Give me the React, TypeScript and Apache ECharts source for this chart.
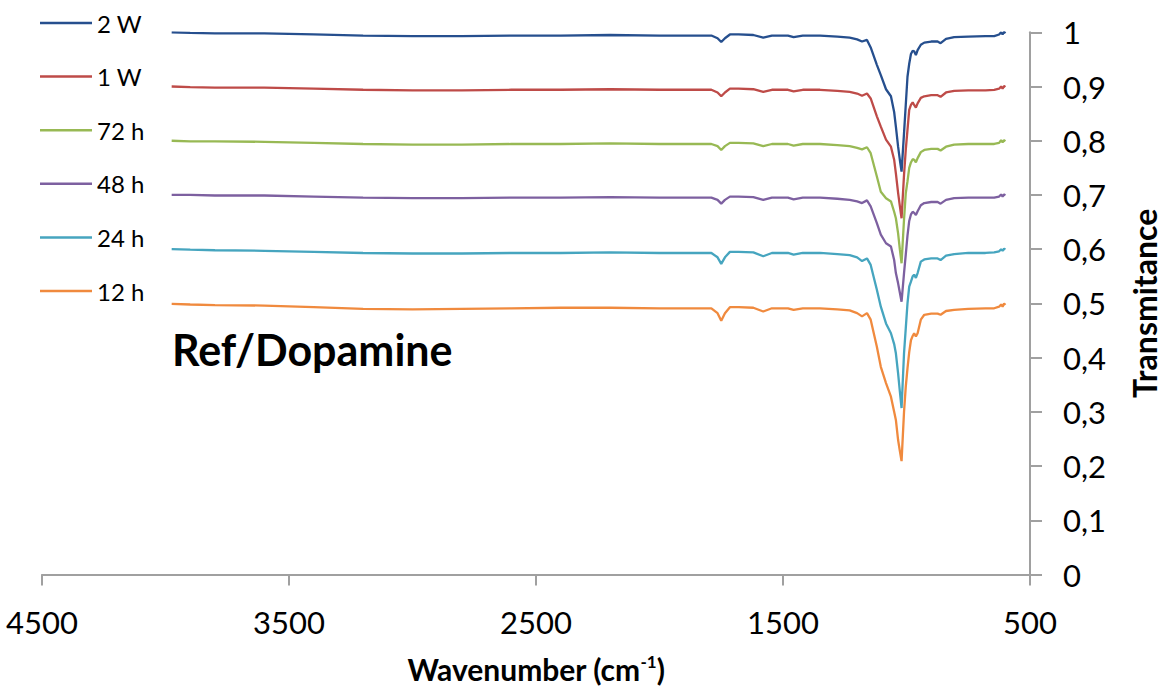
import React, { useEffect, useRef } from "react";
import * as echarts from "echarts";

const WAVENUMBERS = [
  3975, 3900, 3800, 3600, 3400, 3200, 3000, 2800, 2600, 2400, 2200, 2000, 1850, 1790,
  1765, 1750, 1735, 1715, 1680, 1620, 1580, 1545, 1480, 1457, 1420, 1350, 1280, 1230,
  1200, 1180, 1160, 1145, 1120, 1104, 1083, 1063, 1050, 1043, 1034, 1027, 1020, 1010,
  1003, 996, 989, 982, 975, 969, 962, 955, 942, 928, 900, 874, 862, 840, 807, 750, 680,
  645, 625, 617, 611, 605, 600,
];

const T_2W = [
  1.0, 0.999, 0.998, 0.998, 0.996, 0.994, 0.993, 0.993, 0.994, 0.994, 0.995, 0.994, 0.994, 0.994,
  0.989, 0.982, 0.989, 0.996, 0.996, 0.995, 0.99, 0.994, 0.994, 0.991, 0.994, 0.994, 0.992, 0.99,
  0.987, 0.983, 0.986, 0.972, 0.94, 0.921, 0.895, 0.882, 0.853, 0.826, 0.789, 0.765, 0.743, 0.814,
  0.866, 0.918, 0.942, 0.96, 0.966, 0.965, 0.958, 0.967, 0.977, 0.981, 0.983, 0.983, 0.98, 0.988,
  0.991, 0.992, 0.993, 0.993, 0.996, 1.0, 0.996, 1.001, 0.998,
];
const T_1W = [
  0.9, 0.899, 0.898, 0.898, 0.896, 0.894, 0.893, 0.893, 0.894, 0.894, 0.895, 0.894, 0.894, 0.894,
  0.889, 0.882, 0.889, 0.896, 0.896, 0.895, 0.89, 0.894, 0.894, 0.891, 0.894, 0.894, 0.892, 0.89,
  0.887, 0.883, 0.887, 0.878, 0.845, 0.826, 0.802, 0.789, 0.765, 0.74, 0.704, 0.68, 0.657, 0.737,
  0.783, 0.82, 0.857, 0.866, 0.871, 0.866, 0.861, 0.869, 0.879, 0.882, 0.884, 0.884, 0.881, 0.889,
  0.892, 0.893, 0.893, 0.894, 0.896, 0.9, 0.896, 0.901, 0.899,
];
const T_72H = [
  0.8, 0.799, 0.799, 0.798, 0.796, 0.794, 0.793, 0.793, 0.794, 0.794, 0.795, 0.794, 0.794, 0.794,
  0.79, 0.783, 0.79, 0.796, 0.796, 0.795, 0.79, 0.794, 0.794, 0.791, 0.794, 0.794, 0.792, 0.79,
  0.787, 0.784, 0.788, 0.777, 0.734, 0.706, 0.694, 0.688, 0.669, 0.657, 0.629, 0.6, 0.574, 0.655,
  0.703, 0.725, 0.75, 0.76, 0.766, 0.765, 0.76, 0.768, 0.779, 0.783, 0.785, 0.785, 0.782, 0.789,
  0.793, 0.794, 0.794, 0.794, 0.796, 0.801, 0.797, 0.801, 0.799,
];
const T_48H = [
  0.7, 0.7, 0.699, 0.699, 0.697, 0.695, 0.694, 0.694, 0.695, 0.695, 0.696, 0.695, 0.695, 0.695,
  0.691, 0.684, 0.691, 0.697, 0.697, 0.696, 0.691, 0.695, 0.695, 0.692, 0.695, 0.695, 0.693, 0.691,
  0.688, 0.685, 0.69, 0.679, 0.648, 0.627, 0.611, 0.605, 0.58, 0.556, 0.537, 0.52, 0.503, 0.556,
  0.59, 0.625, 0.652, 0.664, 0.669, 0.667, 0.663, 0.67, 0.681, 0.685, 0.687, 0.687, 0.684, 0.691,
  0.694, 0.695, 0.695, 0.695, 0.697, 0.701, 0.697, 0.701, 0.699,
];
const T_24H = [
  0.6, 0.599, 0.598, 0.597, 0.595, 0.593, 0.592, 0.592, 0.593, 0.593, 0.594, 0.593, 0.593, 0.593,
  0.585, 0.573, 0.585, 0.595, 0.595, 0.594, 0.587, 0.593, 0.593, 0.59, 0.593, 0.593, 0.591, 0.589,
  0.585, 0.578, 0.583, 0.571, 0.525, 0.494, 0.463, 0.445, 0.425, 0.408, 0.371, 0.338, 0.307, 0.408,
  0.454, 0.5, 0.531, 0.54, 0.55, 0.553, 0.547, 0.556, 0.577, 0.581, 0.583, 0.583, 0.58, 0.588,
  0.591, 0.593, 0.593, 0.594, 0.596, 0.6, 0.597, 0.601, 0.599,
];
const T_12H = [
  0.499, 0.498, 0.497, 0.496, 0.493, 0.49, 0.489, 0.49, 0.491, 0.492, 0.492, 0.491, 0.491, 0.491,
  0.482, 0.468, 0.482, 0.493, 0.493, 0.492, 0.485, 0.491, 0.491, 0.488, 0.491, 0.491, 0.489, 0.487,
  0.482, 0.476, 0.482, 0.47, 0.42, 0.383, 0.353, 0.328, 0.3, 0.285, 0.248, 0.228, 0.209, 0.3,
  0.346, 0.38, 0.41, 0.432, 0.44, 0.445, 0.439, 0.445, 0.47, 0.479, 0.481, 0.481, 0.479, 0.486,
  0.488, 0.49, 0.491, 0.491, 0.494, 0.498, 0.494, 0.5, 0.497,
];

const SERIES_NAMES = ["2 W", "1 W", "72 h", "48 h", "24 h", "12 h"];
const SERIES_VALUES = [T_2W, T_1W, T_72H, T_48H, T_24H, T_12H];
const SERIES_COLORS = ["#264F8E", "#BE4B48", "#98B954", "#7D60A0", "#46A5BF", "#F08A3E"];

const X_TICKS = [500, 1500, 2500, 3500, 4500];
const Y_MIN = 0;
const Y_MAX = 1;

const FONT = "Lato";

export default function App() {
  const ref = useRef<HTMLDivElement>(null);

  useEffect(() => {
    if (!ref.current) return;
    const chart = echarts.init(ref.current, null, { renderer: "svg" });
    const option: any = {
      animation: false,
      backgroundColor: "#ffffff",
      textStyle: { fontFamily: FONT },
      grid: {
        left: 42,
        right: 134,
        top: 32.3,
        bottom: 116.5,
        containLabel: false,
        outerBoundsMode: "none",
      },
      legend: {
        orient: "vertical",
        left: 40,
        top: 11,
        padding: 0,
        icon: "rect",
        itemWidth: 52,
        itemHeight: 2.5,
        itemGap: 29.6,
        data: SERIES_NAMES,
        textStyle: { fontSize: 24, lineHeight: 24, color: "#000", fontFamily: FONT },
      },
      xAxis: {
        type: "value",
        inverse: true,
        min: X_TICKS[0],
        max: X_TICKS[X_TICKS.length - 1],
        interval: 1000,
        position: "bottom",
        name: "Wavenumber (cm{sup|-1})",
        nameLocation: "middle",
        nameGap: 78,
        nameTextStyle: {
          fontFamily: FONT,
          fontWeight: "bold",
          fontSize: 30,
          color: "#000",
          rich: {
            sup: { fontFamily: FONT, fontWeight: "bold", fontSize: 17, color: "#000", padding: [0, 0, 15, 0] },
          },
        },
        axisLine: { show: true, onZero: false, lineStyle: { color: "#a0a0a0", width: 2 } },
        axisTick: { show: true, inside: false, length: 11, lineStyle: { color: "#a0a0a0", width: 2 } },
        axisLabel: {
          fontSize: 31,
          color: "#000",
          margin: 32,
          fontFamily: FONT,
          formatter: (v: number) => String(Math.round(v)),
        },
        splitLine: { show: false },
      },
      yAxis: {
        type: "value",
        position: "right",
        min: Y_MIN,
        max: Y_MAX,
        interval: 0.1,
        name: "Transmitance",
        nameLocation: "middle",
        nameRotate: 90,
        nameGap: 98,
        nameTextStyle: { fontFamily: FONT, fontWeight: "bold", fontSize: 32, color: "#000" },
        axisLine: { show: true, onZero: false, lineStyle: { color: "#a0a0a0", width: 2 } },
        axisTick: { show: true, inside: false, length: 12, lineStyle: { color: "#a0a0a0", width: 2 } },
        axisLabel: {
          fontSize: 31,
          color: "#000",
          margin: 33,
          fontFamily: FONT,
          formatter: (v: number) => {
            const r = Math.round(v * 10) / 10;
            if (r === 0) return "0";
            if (r === 1) return "1";
            return r.toFixed(1).replace(".", ",");
          },
        },
        splitLine: { show: false },
      },
      graphic: [
        {
          type: "text",
          left: 172,
          top: 328,
          style: { text: "Ref/Dopamine", font: `bold 43px ${FONT}`, fill: "#000" },
        },
      ],
      series: SERIES_NAMES.map((name, i) => ({
        name,
        type: "line",
        symbol: "none",
        showSymbol: false,
        color: SERIES_COLORS[i],
        lineStyle: { color: SERIES_COLORS[i], width: 2.3 },
        data: WAVENUMBERS.map((w, j) => [w, SERIES_VALUES[i][j]]),
      })),
    };
    chart.setOption(option);
    return () => chart.dispose();
  }, []);

  return (
    <div
      ref={ref}
      style={{ position: "fixed", left: 0, top: 0, width: 1164, height: 691, background: "#fff" }}
    />
  );
}
